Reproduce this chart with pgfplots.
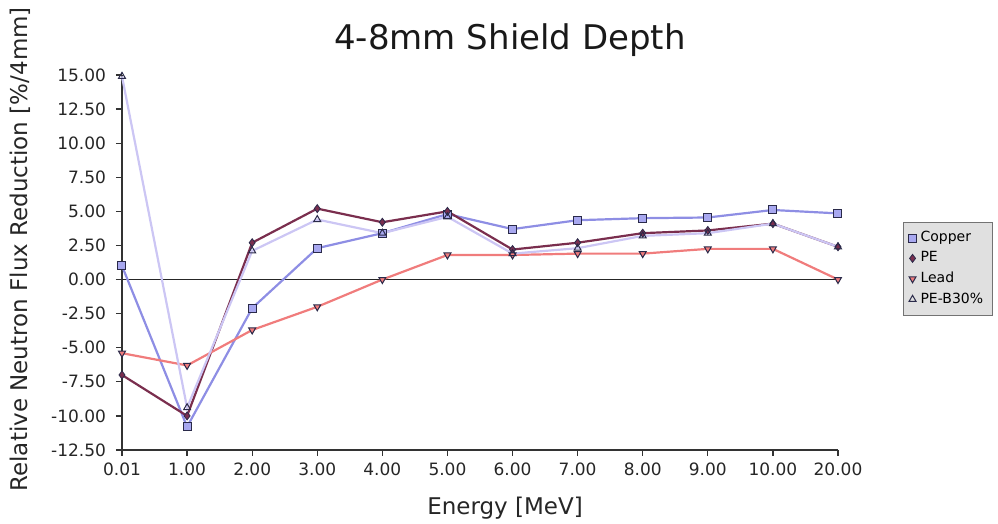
\documentclass[border=0pt]{standalone}
\usepackage{fontspec}
\setmainfont{DejaVu Sans}
\usepackage{pgfplots}
\pgfplotsset{compat=1.18}

\definecolor{copperline}{HTML}{8E8EE4}
\definecolor{copperfill}{HTML}{A8A8F0}
\definecolor{peline}{HTML}{7A2E4E}
\definecolor{leadline}{HTML}{F07C7C}
\definecolor{pebline}{HTML}{CCC6F4}
\definecolor{markedge}{HTML}{2A2A4A}

\begin{document}
\begin{tikzpicture}
\useasboundingbox (-61pt,-37pt) rectangle (438pt,225pt);
\begin{axis}[
  scale only axis,
  width=358pt, height=187.5pt,
  xmin=0, xmax=11,
  ymin=-12.5, ymax=15,
  axis lines=left,
  axis line style={-, line width=0.8pt, black!80},
  tick align=outside,
  major tick length=3pt,
  tick style={line width=0.6pt, black!80},
  xtick={0,...,11},
  xticklabels={0.01,1.00,2.00,3.00,4.00,5.00,6.00,7.00,8.00,9.00,10.00,20.00},
  ytick={-12.5,-10,...,15},
  yticklabel style={xshift=-1.5pt, /pgf/number format/.cd, fixed, fixed zerofill, precision=2},
  /pgf/number format/assume math mode=true,
  ticklabel style={font=\fontsize{8.5}{10}\selectfont, text=black!85},
  extra y ticks={0},
  extra y tick labels={},
  extra y tick style={grid=major, major grid style={black!85, line width=0.7pt}},
  title={4-8mm Shield Depth},
  title style={at={(axis description cs:0.542,1.035)}, anchor=base, font=\fontsize{17}{19}\selectfont, text=black!90},
  xlabel={Energy [MeV]},
  xlabel style={at={(axis description cs:0.535,-0.173)}, anchor=base, font=\fontsize{11.5}{13}\selectfont, text=black!85},
  ylabel={Relative Neutron Flux Reduction [\%/4mm]},
  ylabel style={at={(axis description cs:-0.1425,0.535)}, anchor=center, rotate=0, font=\fontsize{11.5}{13}\selectfont, text=black!85},
  legend style={at={(axis description cs:1.091,0.608)}, anchor=north west,
    fill=black!12, draw=black!55, line width=0.4pt,
    font=\fontsize{7}{8.5}\selectfont, row sep=-0.5pt, inner sep=2.5pt},
  legend cell align=left,
  legend image code/.code={\draw[only marks, #1] plot coordinates {(0.15cm,0)};},
  every axis plot/.append style={line width=1.1pt},
  clip=false,
]
% Copper
\addplot[color=copperline, mark=square*, mark size=2pt,
  mark options={fill=copperfill, draw=markedge, line width=0.5pt}]
  coordinates {(0,1.0)(1,-10.8)(2,-2.1)(3,2.3)(4,3.4)(5,4.8)(6,3.7)(7,4.35)(8,4.5)(9,4.55)(10,5.1)(11,4.85)};
\addlegendentry{Copper}
% PE
\addplot[color=peline, mark=diamond*, mark size=2pt,
  mark options={fill=peline, draw=markedge, line width=0.4pt}]
  coordinates {(0,-7.0)(1,-10.0)(2,2.7)(3,5.2)(4,4.2)(5,5.0)(6,2.2)(7,2.7)(8,3.4)(9,3.6)(10,4.1)(11,2.4)};
\addlegendentry{PE}
% Lead
\addplot[color=leadline, mark=triangle*, mark size=2pt,
  mark options={rotate=180, fill=leadline, draw=markedge, line width=0.5pt}]
  coordinates {(0,-5.4)(1,-6.3)(2,-3.7)(3,-2.0)(4,0.0)(5,1.8)(6,1.8)(7,1.9)(8,1.9)(9,2.25)(10,2.25)(11,0.0)};
\addlegendentry{Lead}
% PE-B30%
\addplot[color=pebline, mark=triangle, mark size=2pt,
  mark options={fill=white, draw=markedge, line width=0.5pt}]
  coordinates {(0,14.9)(1,-9.4)(2,2.1)(3,4.4)(4,3.4)(5,4.6)(6,1.9)(7,2.3)(8,3.2)(9,3.4)(10,4.1)(11,2.4)};
\addlegendentry{PE-B30\%}
\end{axis}
\end{tikzpicture}
\end{document}
